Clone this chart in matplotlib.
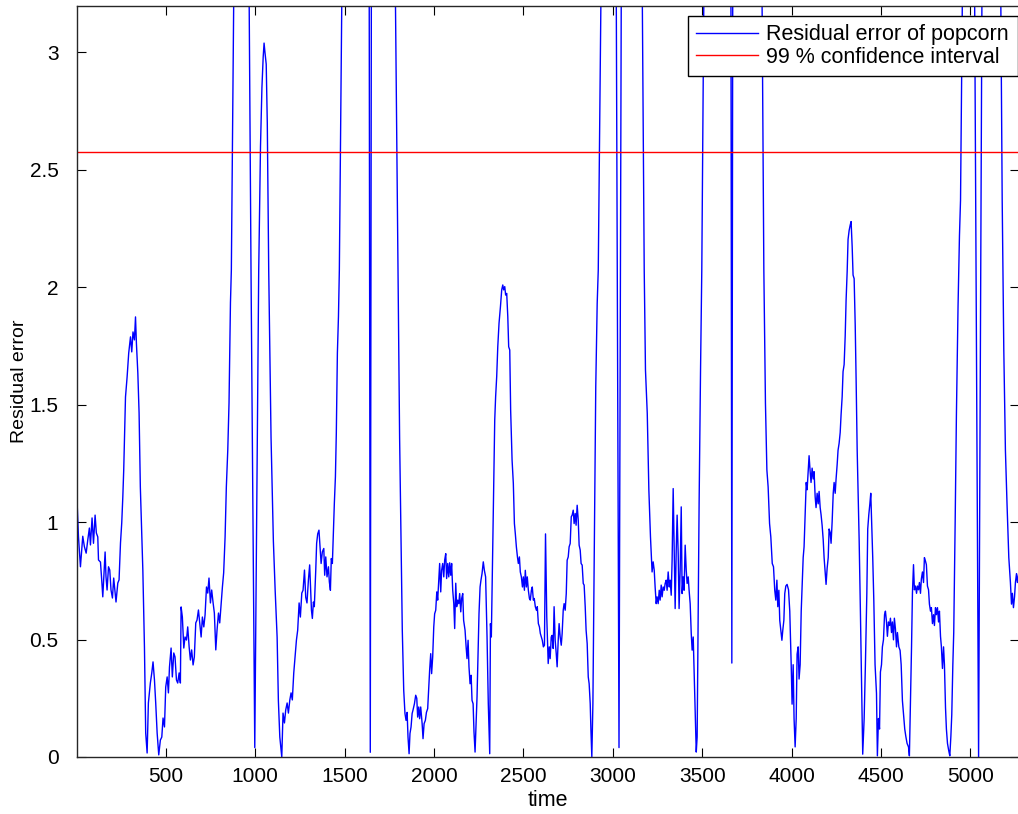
import matplotlib
matplotlib.use("Agg")
import matplotlib.pyplot as plt

# ---- data ----
time_pts = [
    1, 12, 23, 36, 45, 55, 64, 73, 79, 88, 96, 105, 112, 120, 124, 135, 142, 148, 153, 161,
    166, 172, 180, 187, 194, 202, 209, 217, 222, 232, 239, 247, 254, 260, 265, 275, 284, 293,
    303, 310, 317, 325, 331, 336, 344, 351, 358, 372, 381, 388, 396, 403, 414, 422, 429, 437,
    444, 452, 461, 470, 478, 485, 493, 500, 508, 515, 521, 530, 537, 545, 552, 560, 567, 575,
    582, 586, 593, 601, 608, 616, 623, 631, 638, 645, 653, 660, 668, 675, 683, 690, 698, 705,
    713, 720, 728, 735, 742, 750, 757, 765, 772, 780, 787, 795, 802, 810, 817, 824, 832, 839,
    847, 854, 862, 867, 895, 955, 977, 998, 1020, 1030, 1038, 1045, 1050, 1055, 1062, 1068,
    1076, 1089, 1102, 1112, 1123, 1130, 1138, 1149, 1156, 1164, 1171, 1179, 1186, 1194, 1201,
    1208, 1216, 1223, 1231, 1238, 1246, 1253, 1261, 1268, 1276, 1283, 1290, 1298, 1305, 1315,
    1320, 1326, 1331, 1339, 1344, 1350, 1357, 1363, 1369, 1376, 1384, 1389, 1395, 1402, 1410,
    1415, 1421, 1426, 1432, 1438, 1443, 1449, 1454, 1460, 1466, 1471, 1500, 1637, 1644, 1651,
    1775, 1799, 1808, 1816, 1823, 1831, 1838, 1844, 1850, 1855, 1861, 1866, 1872, 1878, 1883,
    1891, 1898, 1904, 1909, 1915, 1920, 1926, 1934, 1939, 1945, 1952, 1958, 1965, 1971, 1976,
    1982, 1987, 1993, 1999, 2004, 2010, 2016, 2021, 2027, 2032, 2038, 2043, 2049, 2055, 2060,
    2066, 2071, 2077, 2083, 2088, 2094, 2099, 2105, 2111, 2116, 2122, 2127, 2133, 2139, 2144,
    2150, 2155, 2161, 2166, 2174, 2180, 2185, 2191, 2196, 2202, 2208, 2213, 2219, 2224, 2230,
    2235, 2241, 2247, 2252, 2258, 2263, 2269, 2276, 2282, 2289, 2297, 2304, 2312, 2316, 2321,
    2327, 2334, 2340, 2345, 2351, 2357, 2364, 2372, 2379, 2385, 2390, 2396, 2401, 2407, 2413,
    2418, 2424, 2429, 2437, 2444, 2450, 2455, 2461, 2467, 2472, 2478, 2483, 2489, 2495, 2500,
    2506, 2511, 2517, 2522, 2528, 2534, 2539, 2545, 2550, 2556, 2561, 2567, 2573, 2578, 2584,
    2590, 2595, 2601, 2606, 2612, 2618, 2624, 2631, 2639, 2645, 2650, 2656, 2661, 2667, 2672,
    2678, 2684, 2689, 2695, 2700, 2706, 2712, 2717, 2723, 2728, 2734, 2740, 2745, 2751, 2756,
    2762, 2768, 2773, 2779, 2784, 2790, 2795, 2801, 2807, 2812, 2818, 2823, 2829, 2835, 2840,
    2846, 2851, 2857, 2863, 2868, 2874, 2878, 2883, 2889, 2894, 2900, 2905, 2913, 2919, 2940,
    3018, 3035, 3049, 3160, 3176, 3183, 3193, 3202, 3211, 3220, 3226, 3232, 3237, 3243, 3248,
    3254, 3260, 3265, 3271, 3276, 3282, 3288, 3293, 3299, 3304, 3310, 3316, 3321, 3327, 3332,
    3338, 3344, 3349, 3355, 3360, 3366, 3371, 3377, 3383, 3388, 3394, 3399, 3405, 3411, 3416,
    3422, 3427, 3433, 3439, 3444, 3450, 3455, 3461, 3467, 3472, 3478, 3483, 3491, 3498, 3515,
    3660, 3666, 3672, 3830, 3845, 3854, 3862, 3869, 3877, 3884, 3892, 3899, 3906, 3912, 3918,
    3923, 3929, 3934, 3940, 3946, 3951, 3957, 3962, 3968, 3975, 3983, 3990, 3998, 4003, 4009,
    4014, 4020, 4026, 4031, 4037, 4042, 4048, 4054, 4059, 4065, 4070, 4076, 4082, 4087, 4093,
    4098, 4104, 4109, 4115, 4121, 4126, 4132, 4137, 4143, 4149, 4154, 4160, 4165, 4171, 4177,
    4182, 4188, 4193, 4199, 4205, 4210, 4216, 4221, 4227, 4233, 4238, 4244, 4249, 4255, 4260,
    4266, 4272, 4277, 4283, 4288, 4294, 4300, 4305, 4311, 4316, 4322, 4328, 4333, 4339, 4344,
    4350, 4356, 4361, 4367, 4372, 4378, 4385, 4393, 4398, 4406, 4413, 4421, 4426, 4432, 4438,
    4443, 4449, 4454, 4460, 4467, 4475, 4480, 4486, 4492, 4497, 4503, 4508, 4514, 4520, 4525,
    4531, 4536, 4542, 4548, 4553, 4559, 4564, 4570, 4575, 4581, 4587, 4592, 4600, 4607, 4613,
    4620, 4628, 4633, 4639, 4646, 4654, 4659, 4665, 4671, 4676, 4682, 4687, 4693, 4699, 4704,
    4710, 4715, 4721, 4726, 4732, 4738, 4743, 4749, 4754, 4760, 4766, 4771, 4777, 4782, 4788,
    4794, 4799, 4805, 4810, 4816, 4822, 4827, 4833, 4838, 4844, 4850, 4855, 4861, 4866, 4872,
    4879, 4885, 4891, 4896, 4902, 4907, 4915, 4922, 4931, 4939, 4945, 4962, 5020, 5046, 5068,
    5165, 5178, 5187, 5196, 5205, 5215, 5224, 5230, 5235, 5241, 5247, 5252, 5258, 5263, 5270,
]

residual_pts = [
    1.15, 0.938, 0.81, 0.94, 0.896, 0.868, 0.924, 0.975, 0.903, 1.018, 0.91, 1.03, 0.954, 0.937,
    0.839, 0.83, 0.754, 0.682, 0.754, 0.873, 0.767, 0.711, 0.81, 0.796, 0.711, 0.677, 0.762,
    0.698, 0.66, 0.741, 0.754, 0.911, 0.997, 1.107, 1.22, 1.533, 1.618, 1.72, 1.789, 1.725,
    1.81, 1.776, 1.874, 1.763, 1.635, 1.465, 1.15, 0.796, 0.468, 0.102, 0.017, 0.23, 0.315,
    0.358, 0.405, 0.328, 0.23, 0.102, 0.009, 0.072, 0.085, 0.166, 0.128, 0.298, 0.341, 0.273,
    0.383, 0.464, 0.341, 0.443, 0.426, 0.328, 0.315, 0.358, 0.315, 0.639, 0.596, 0.464, 0.511,
    0.498, 0.554, 0.468, 0.413, 0.456, 0.392, 0.426, 0.571, 0.583, 0.626, 0.571, 0.511, 0.596,
    0.554, 0.605, 0.724, 0.698, 0.762, 0.656, 0.711, 0.656, 0.613, 0.456, 0.541, 0.613, 0.571,
    0.656, 0.724, 0.784, 0.937, 1.15, 1.307, 1.508, 1.934, 2.074, 4.5, 4.5, 2.07, 0.04, 2.07,
    2.6, 2.85, 2.98, 3.04, 3.0, 2.95, 2.7, 2.07, 1.36, 0.92, 0.71, 0.51, 0.24, 0.085, 0.0,
    0.187, 0.145, 0.2, 0.23, 0.187, 0.243, 0.273, 0.243, 0.358, 0.426, 0.498, 0.54, 0.656,
    0.596, 0.698, 0.71, 0.796, 0.68, 0.656, 0.754, 0.818, 0.625, 0.59, 0.66, 0.64, 0.795, 0.91,
    0.95, 0.966, 0.895, 0.824, 0.874, 0.888, 0.774, 0.852, 0.767, 0.81, 0.746, 0.71, 0.845,
    0.824, 0.966, 1.08, 1.193, 1.378, 1.72, 1.875, 2.074, 4.5, 3.8, 0.02, 3.8, 4.0, 2.07, 1.36,
    0.94, 0.54, 0.284, 0.185, 0.156, 0.19, 0.085, 0.014, 0.1, 0.128, 0.185, 0.2, 0.227, 0.263,
    0.25, 0.17, 0.213, 0.163, 0.213, 0.142, 0.078, 0.142, 0.156, 0.19, 0.206, 0.298, 0.37,
    0.44, 0.355, 0.426, 0.554, 0.61, 0.625, 0.703, 0.668, 0.753, 0.824, 0.703, 0.795, 0.824,
    0.767, 0.838, 0.866, 0.76, 0.824, 0.767, 0.827, 0.774, 0.824, 0.71, 0.653, 0.547, 0.74,
    0.64, 0.668, 0.653, 0.696, 0.618, 0.675, 0.696, 0.582, 0.54, 0.469, 0.419, 0.497, 0.384,
    0.312, 0.348, 0.241, 0.227, 0.107, 0.021, 0.128, 0.256, 0.455, 0.61, 0.724, 0.753, 0.781,
    0.831, 0.795, 0.767, 0.511, 0.227, 0.014, 0.568, 0.511, 0.795, 1.15, 1.435, 1.534, 1.62,
    1.747, 1.847, 1.918, 1.989, 2.01, 1.989, 2.003, 1.967, 1.974, 1.875, 1.747, 1.733, 1.477,
    1.264, 1.165, 0.994, 0.952, 0.895, 0.852, 0.824, 0.852, 0.788, 0.767, 0.724, 0.767, 0.71,
    0.795, 0.724, 0.767, 0.71, 0.675, 0.668, 0.71, 0.724, 0.668, 0.675, 0.64, 0.625, 0.64,
    0.568, 0.554, 0.526, 0.511, 0.497, 0.469, 0.476, 0.95, 0.597, 0.398, 0.469, 0.419, 0.511,
    0.518, 0.462, 0.64, 0.497, 0.44, 0.384, 0.497, 0.568, 0.511, 0.476, 0.526, 0.625, 0.653,
    0.625, 0.696, 0.838, 0.852, 0.895, 0.909, 1.023, 1.03, 1.051, 0.994, 1.037, 0.987, 1.072,
    1.009, 0.902, 0.881, 0.824, 0.817, 0.739, 0.732, 0.64, 0.54, 0.483, 0.341, 0.312, 0.227,
    0.114, 0.0, 0.227, 0.653, 1.15, 1.577, 1.932, 2.074, 3.7, 3.6, 0.04, 3.6, 3.8, 2.074,
    1.648, 1.463, 1.136, 0.9375, 0.788, 0.831, 0.795, 0.724, 0.653, 0.682, 0.653, 0.71, 0.668,
    0.732, 0.682, 0.724, 0.71, 0.739, 0.753, 0.71, 0.788, 0.724, 0.753, 0.689, 0.838, 1.143,
    0.866, 0.632, 0.881, 1.03, 0.866, 0.632, 0.795, 1.065, 0.696, 0.767, 0.71, 0.902, 0.795,
    0.739, 0.767, 0.71, 0.653, 0.526, 0.455, 0.511, 0.369, 0.199, 0.021, 0.085, 0.653, 1.08,
    1.648, 2.074, 3.8, 3.8, 0.40, 3.8, 3.8, 2.074, 1.506, 1.222, 1.15, 0.994, 0.9375, 0.824,
    0.81, 0.71, 0.668, 0.753, 0.64, 0.71, 0.582, 0.54, 0.497, 0.54, 0.582, 0.696, 0.728, 0.735,
    0.712, 0.621, 0.393, 0.225, 0.393, 0.164, 0.043, 0.164, 0.438, 0.469, 0.332, 0.393, 0.621,
    0.728, 0.849, 0.895, 1.032, 1.169, 1.138, 1.215, 1.283, 1.215, 1.169, 1.23, 1.184, 1.215,
    1.108, 1.062, 1.123, 1.078, 1.131, 1.062, 1.032, 0.986, 0.925, 0.849, 0.788, 0.735, 0.804,
    0.849, 0.971, 0.956, 0.91, 1.002, 1.123, 1.169, 1.123, 1.184, 1.245, 1.306, 1.336, 1.382,
    1.458, 1.534, 1.641, 1.671, 1.793, 1.945, 2.067, 2.204, 2.242, 2.265, 2.28, 2.173, 2.052,
    2.037, 1.839, 1.61, 1.306, 1.123, 0.925, 0.621, 0.24, 0.012, 0.164, 0.393, 0.697, 0.971,
    1.032, 1.078, 1.123, 0.971, 0.849, 0.667, 0.393, 0.271, 0.005, 0.164, 0.119, 0.362, 0.393,
    0.469, 0.499, 0.606, 0.621, 0.575, 0.514, 0.575, 0.56, 0.591, 0.53, 0.575, 0.499, 0.591,
    0.545, 0.469, 0.53, 0.469, 0.454, 0.393, 0.24, 0.164, 0.119, 0.088, 0.058, 0.043, 0.005,
    0.24, 0.469, 0.697, 0.819, 0.712, 0.728, 0.697, 0.728, 0.712, 0.743, 0.697, 0.758, 0.788,
    0.743, 0.849, 0.834, 0.819, 0.728, 0.712, 0.651, 0.621, 0.636, 0.568, 0.606, 0.56, 0.636,
    0.606, 0.636, 0.575, 0.621, 0.514, 0.469, 0.377, 0.469, 0.393, 0.21, 0.119, 0.058, 0.027,
    0.005, 0.088, 0.18, 0.393, 0.53, 1.002, 1.458, 1.915, 2.219, 2.371, 3.8, 3.8, 0.0, 3.8,
    3.8, 2.371, 1.732, 1.306, 1.078, 0.849, 0.743, 0.651, 0.697, 0.636, 0.682, 0.743, 0.781,
    0.743, 0.78,
]

ci_level = 2.576
x_ticks = [500, 1000, 1500, 2000, 2500, 3000, 3500, 4000, 4500, 5000]
y_ticks = [0, 0.5, 1, 1.5, 2, 2.5, 3]
y_ticklabels = ["0", "0.5", "1", "1.5", "2", "2.5", "3"]

plt.rcParams['font.family'] = ['Liberation Sans', 'DejaVu Sans']
FS = 15.5

fig = plt.figure(figsize=(10.18, 8.14), dpi=100)
ax = fig.add_axes([76.5 / 1018, 57 / 814, (1019 - 76.5) / 1018, (757 - 5.5) / 814])

ax.plot(time_pts, residual_pts, color=(0, 0, 1), lw=1.0, label='Residual error of popcorn')
ax.axhline(ci_level, color=(1, 0, 0), lw=1.0, label='99 % confidence interval')

ax.set_xlim(1, 5272)
ax.set_ylim(0, 3.2)
ax.set_xticks(x_ticks)
ax.set_xticklabels([str(v) for v in x_ticks])
ax.set_yticks(y_ticks)
ax.set_yticklabels(y_ticklabels)

ax.tick_params(direction='in', length=6.5, width=0.8, top=True, right=True,
               labelsize=15, colors='black')
ax.tick_params(axis='y', pad=13)
ax.tick_params(axis='x', pad=7)
for s in ax.spines.values():
    s.set_linewidth(1.0)
    s.set_color('#262626')

ax.set_xlabel('time', fontsize=FS, labelpad=3)
ax.set_ylabel('Residual error', fontsize=14, labelpad=1)

leg = ax.legend(loc='upper right', bbox_to_anchor=(1017.5 / 1018, (814 - 15.5) / 814),
                bbox_transform=fig.transFigure, fancybox=False, framealpha=1,
                edgecolor='black', fontsize=FS, handlelength=2.85, handletextpad=0.4,
                labelspacing=0.08, borderpad=0.4, borderaxespad=0)
leg.get_frame().set_linewidth(1.0)

fig.savefig('out.png', dpi=100)
